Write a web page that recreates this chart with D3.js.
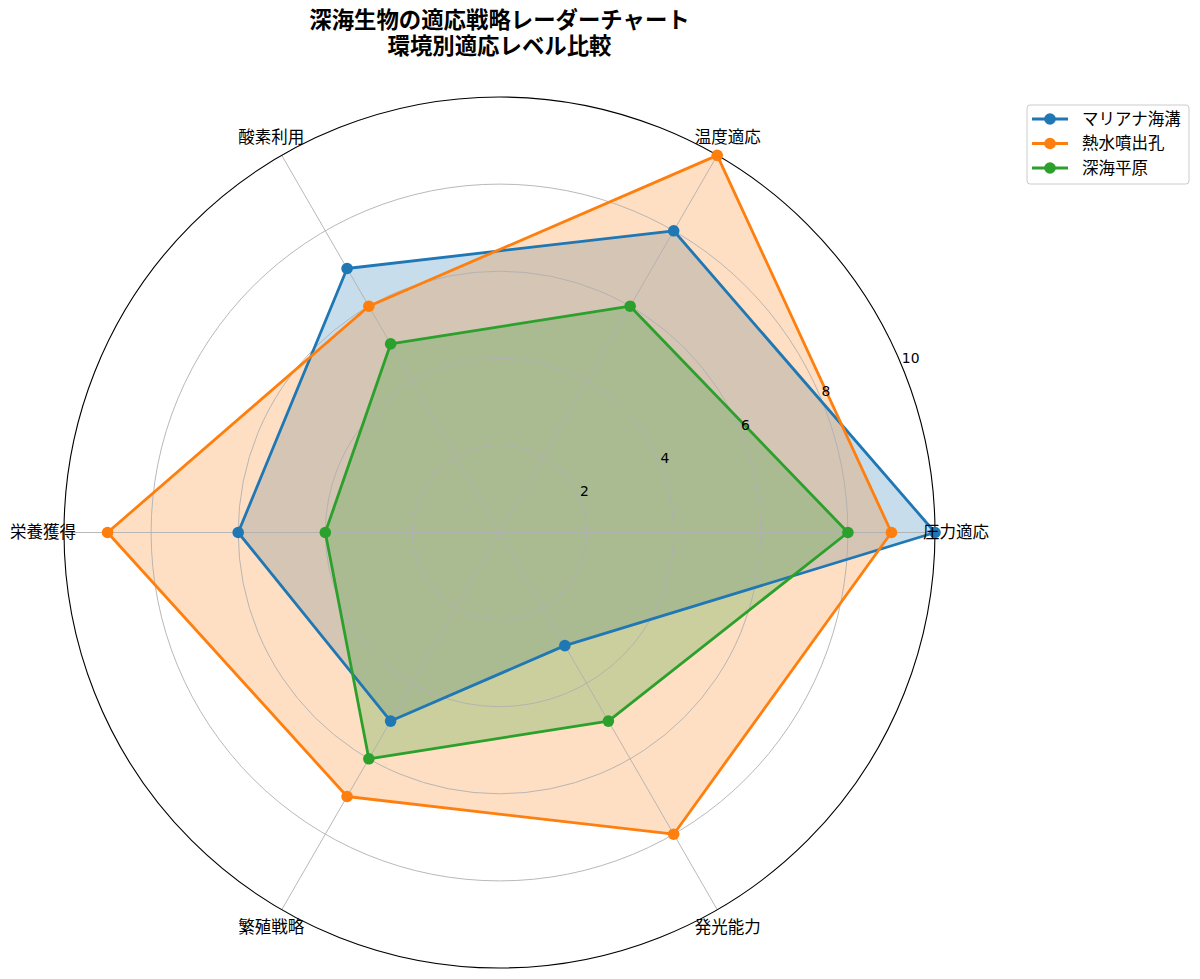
<!DOCTYPE html>
<html>
<head>
<meta charset="utf-8">
<script src="https://cdn.jsdelivr.net/npm/d3@7"></script>
<style>
  body { margin: 0; background: #fff; }
  text { font-family: "DejaVu Sans", "Noto Sans CJK JP", sans-serif; }
</style>
</head>
<body>
<div id="chart"></div>
<script>
// Chart data
var categories = ["圧力適応", "温度適応", "酸素利用", "栄養獲得", "繁殖戦略", "発光能力"];
var seriesNames = ["マリアナ海溝", "熱水噴出孔", "深海平原"];
var marianaValues = [10, 8, 7, 6, 5, 3];
var ventValues = [9, 10, 6, 9, 7, 8];
var plainValues = [8, 6, 5, 4, 6, 5];
var rTicks = [2, 4, 6, 8, 10];
var titleLines = ["深海生物の適応戦略レーダーチャート", "環境別適応レベル比較"];

var colors = ["#1f77b4", "#ff7f0e", "#2ca02c"];
var allSeries = [marianaValues, ventValues, plainValues];

var svgWidth = 1200;
var svgHeight = 979;
var cx = 499.5;
var cy = 532.5;
var outerR = 435.5;

var svg = d3.select("#chart")
            .append("svg")
            .attr("width", svgWidth)
            .attr("height", svgHeight);

var rScale = d3.scaleLinear().domain([0, 10]).range([0, outerR]);
// math angle (counter-clockwise from east) for each category
var angle = i => i * 2 * Math.PI / categories.length;
// d3 radial angle: 0 at 12 o'clock, clockwise
var d3Angle = i => Math.PI / 2 - angle(i);

var chartGroup = svg.append("g")
                    .attr("transform", `translate(${cx}, ${cy})`);

var radial = d3.lineRadial()
               .angle((d, i) => d3Angle(i))
               .radius(d => rScale(d))
               .curve(d3.curveLinearClosed);

// Filled areas (below grid)
chartGroup.selectAll(".area")
          .data(allSeries)
          .enter()
          .append("path")
          .attr("d", d => radial(d))
          .attr("fill", (d, i) => colors[i])
          .attr("fill-opacity", 0.25)
          .attr("stroke", "none");

// Grid circles
chartGroup.selectAll(".grid")
          .data(rTicks.slice(0, -1))
          .enter()
          .append("circle")
          .attr("r", d => rScale(d))
          .attr("fill", "none")
          .attr("stroke", "#b0b0b0")
          .attr("stroke-width", 0.9);

// Spokes
chartGroup.selectAll(".spoke")
          .data(categories)
          .enter()
          .append("line")
          .attr("x1", 0).attr("y1", 0)
          .attr("x2", (d, i) => rScale(10) * Math.cos(angle(i)))
          .attr("y2", (d, i) => -rScale(10) * Math.sin(angle(i)))
          .attr("stroke", "#b0b0b0")
          .attr("stroke-width", 0.9);

// Outer spine
chartGroup.append("circle")
          .attr("r", rScale(10))
          .attr("fill", "none")
          .attr("stroke", "#000")
          .attr("stroke-width", 1.1);

// Series lines and markers
allSeries.forEach((values, s) => {
  chartGroup.append("path")
            .attr("d", radial(values))
            .attr("fill", "none")
            .attr("stroke", colors[s])
            .attr("stroke-width", 2.8)
            .attr("stroke-linejoin", "round");
  chartGroup.selectAll(".pt" + s)
            .data(values)
            .enter()
            .append("circle")
            .attr("cx", (d, i) => rScale(d) * Math.cos(angle(i)))
            .attr("cy", (d, i) => -rScale(d) * Math.sin(angle(i)))
            .attr("r", 5.8)
            .attr("fill", colors[s]);
});

// Radial tick labels at 22.5 degrees
var labelAngle = 22.5 * Math.PI / 180;
chartGroup.selectAll(".rlabel")
          .data(rTicks)
          .enter()
          .append("text")
          .attr("x", d => rScale(d) * Math.cos(labelAngle))
          .attr("y", d => -rScale(d) * Math.sin(labelAngle) - 3)
          .attr("text-anchor", "start")
          .attr("font-size", "13.9px")
          .attr("fill", "#000")
          .text(d => d);

// Category labels
chartGroup.selectAll(".cat")
          .data(categories)
          .enter()
          .append("text")
          .attr("x", (d, i) => (outerR + 21) * Math.cos(angle(i)))
          .attr("y", (d, i) => -(outerR + 21) * Math.sin(angle(i)))
          .attr("text-anchor", "middle")
          .attr("dominant-baseline", "central")
          .attr("font-size", "16.5px")
          .attr("fill", "#000")
          .text(d => d);

// Title
svg.append("g")
   .selectAll("text")
   .data(titleLines)
   .enter()
   .append("text")
   .attr("x", cx)
   .attr("y", (d, i) => 20 + i * 25.5)
   .attr("text-anchor", "middle")
   .attr("dominant-baseline", "central")
   .attr("font-size", "22.4px")
   .attr("font-weight", "bold")
   .text(d => d);

// Legend
var legend = svg.append("g").attr("transform", "translate(1027, 105)");
legend.append("rect")
      .attr("width", 162)
      .attr("height", 79)
      .attr("rx", 3)
      .attr("fill", "#fff")
      .attr("fill-opacity", 0.8)
      .attr("stroke", "#cccccc");
var entries = legend.selectAll(".entry")
                    .data(seriesNames)
                    .enter()
                    .append("g")
                    .attr("transform", (d, i) => `translate(0, ${14 + i * 24.5})`);
entries.append("line")
       .attr("x1", 5).attr("x2", 41)
       .attr("y1", 0).attr("y2", 0)
       .attr("stroke", (d, i) => colors[i])
       .attr("stroke-width", 2.8);
entries.append("circle")
       .attr("cx", 23).attr("cy", 0)
       .attr("r", 5.8)
       .attr("fill", (d, i) => colors[i]);
entries.append("text")
       .attr("x", 55)
       .attr("y", 0)
       .attr("dominant-baseline", "central")
       .attr("font-size", "16.5px")
       .text(d => d);
</script>
</body>
</html>
